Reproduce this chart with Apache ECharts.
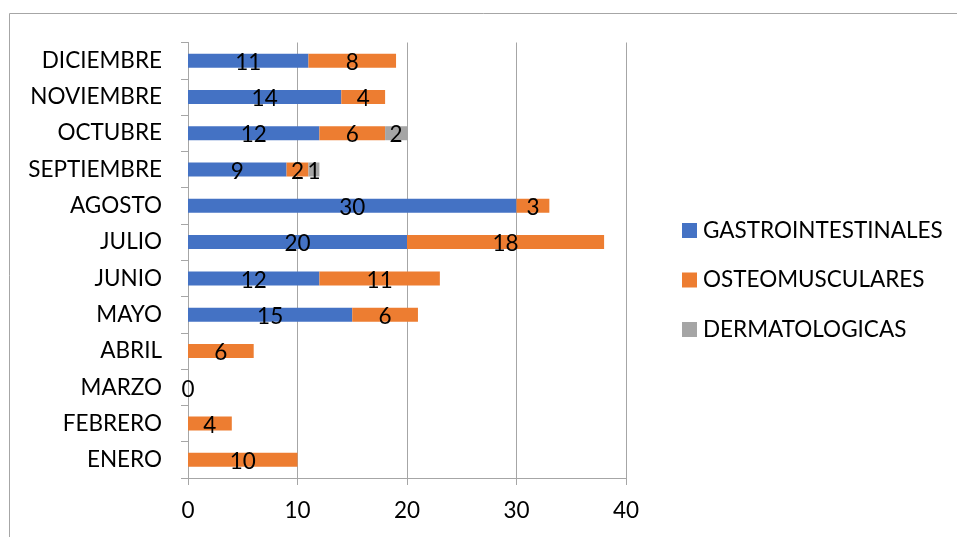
<!DOCTYPE html>
<html><head><meta charset="utf-8">
<script src="https://cdn.jsdelivr.net/npm/echarts@6/dist/echarts.min.js"></script>
<style>html,body{margin:0;padding:0;background:#fff}#c{width:957px;height:537px}</style>
</head><body><div id="c"></div>
<script>
var categories = ['ENERO','FEBRERO','MARZO','ABRIL','MAYO','JUNIO','JULIO','AGOSTO','SEPTIEMBRE','OCTUBRE','NOVIEMBRE','DICIEMBRE'];
var gastro = [null,null,null,null,15,12,20,30,9,12,14,11];
var osteo = [10,4,0,6,6,11,18,3,2,6,4,8];
var derma = [null,null,null,null,null,null,null,null,1,2,null,null];
var xTicks = [0,10,20,30,40];
var FONT = 'Lato';
var FS = 22.5;
var chart = echarts.init(document.getElementById('c'));
function mk(name, data, color){
  return {name:name,type:'bar',stack:'t',data:data,barWidth:14,
    itemStyle:{color:color},
    label:{show:true,position:'inside',color:'#000',fontSize:FS,fontFamily:FONT,offset:[0,2],
      formatter:function(p){return p.value==null?'':String(p.value);}}};
}
chart.setOption({
  animation:false,
  textStyle:{fontFamily:FONT},
  graphic:[{type:'rect',shape:{x:9.5,y:13.5,width:1000,height:600},style:{fill:'none',stroke:'#a6a6a6',lineWidth:1},silent:true}],
  grid:{left:188,top:42.5,width:438,height:435.5},
  legend:{orient:'vertical',left:682,top:219,padding:0,itemWidth:15,itemHeight:15,itemGap:26.5,icon:'rect',
    textStyle:{fontSize:FS,lineHeight:22,fontFamily:FONT,color:'#000',padding:[0,0,0,1]},
    data:['GASTROINTESTINALES','OSTEOMUSCULARES','DERMATOLOGICAS']},
  xAxis:{type:'value',min:0,max:40,interval:10,
    axisLine:{show:true,lineStyle:{color:'#a6a6a6'}},
    axisTick:{show:true,length:7,lineStyle:{color:'#a6a6a6'}},
    splitLine:{show:true,lineStyle:{color:'#a6a6a6'}},
    axisLabel:{fontSize:FS,fontFamily:FONT,color:'#000',margin:21,
      formatter:function(v){return xTicks.indexOf(v)>=0?String(v):'';}}},
  yAxis:{type:'category',data:categories,
    axisLine:{show:true,lineStyle:{color:'#a6a6a6'}},
    axisTick:{show:true,length:7,lineStyle:{color:'#a6a6a6'}},
    axisLabel:{fontSize:FS,fontFamily:FONT,color:'#000',margin:26}},
  series:[mk('GASTROINTESTINALES',gastro,'#4472C4'),mk('OSTEOMUSCULARES',osteo,'#ED7D31'),mk('DERMATOLOGICAS',derma,'#A5A5A5')]
});
</script></body></html>
